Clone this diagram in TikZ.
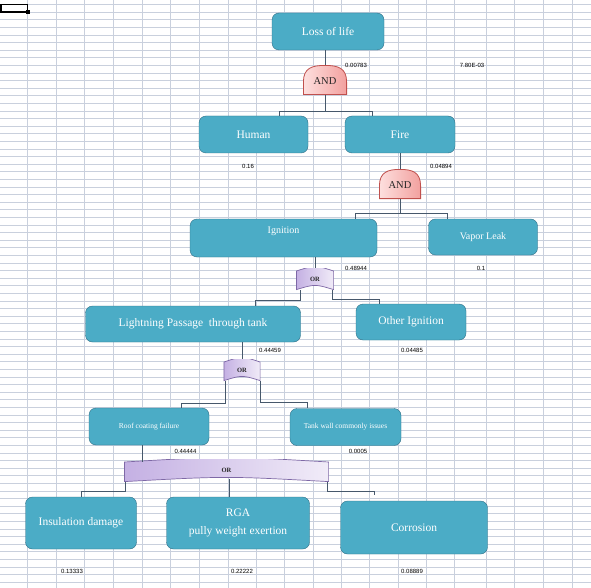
\documentclass[tikz,border=0pt]{standalone}
\usepackage{fontspec}
\setmainfont{Liberation Serif}
\newfontfamily\valfont{Liberation Sans}
\usetikzlibrary{positioning, calc}

\definecolor{evfill}{HTML}{4BACC6}
\definecolor{evline}{HTML}{2F6F86}
\definecolor{wirecol}{HTML}{46586B}
\definecolor{gridcol}{HTML}{C9D0DD}
\definecolor{andlo}{HTML}{FDE0DF}
\definecolor{andhi}{HTML}{F2A09E}
\definecolor{andline}{HTML}{C0504D}
\definecolor{orlo}{HTML}{C4B0E3}
\definecolor{orhi}{HTML}{F1ECF8}
\definecolor{orline}{HTML}{7E68A6}

\begin{document}
\begin{tikzpicture}[x=1pt, y=-1pt,
    event/.style={rectangle, draw=evline, fill=evfill, rounded corners=7pt, text=white, align=center, inner sep=2pt, font=\fontsize{11.5}{18}\selectfont},
    smallev/.style={event, font=\fontsize{7.5}{9}\selectfont},
    value/.style={inner sep=0pt, font=\valfont\fontsize{6}{7}\selectfont},
    wire/.style={draw=wirecol, line width=0.7pt},
    gridline/.style={draw=gridcol, line width=0.5pt},
    andgate/.style={minimum width=44pt, minimum height=30pt, inner sep=0pt, text height=10pt, text=black!85, font=\fontsize{10.5}{12}\selectfont,
      path picture={\draw[andline, left color=andlo, right color=andhi, line width=0.8pt]
        ([shift={(.4pt,.4pt)}]path picture bounding box.south west)
        -- ([shift={(.4pt,-2pt)}]path picture bounding box.west)
        .. controls ([shift={(.4pt,-3pt)}]path picture bounding box.north west) and ([shift={(9pt,-.4pt)}]path picture bounding box.north west) .. ([yshift=-.4pt]path picture bounding box.north)
        .. controls ([shift={(-9pt,-.4pt)}]path picture bounding box.north east) and ([shift={(-.4pt,-3pt)}]path picture bounding box.north east) .. ([shift={(-.4pt,-2pt)}]path picture bounding box.east)
        -- ([shift={(-.4pt,.4pt)}]path picture bounding box.south east) -- cycle;}},
    orgate/.style={inner sep=0pt, text=black!85, font=\fontsize{6.5}{8}\selectfont\bfseries,
      path picture={\draw[orline, left color=orlo, right color=orhi, line width=0.7pt]
        ([shift={(.4pt,-#1)}]path picture bounding box.north west)
        .. controls ([yshift=#1]path picture bounding box.north) .. ([shift={(-.4pt,-#1)}]path picture bounding box.north east)
        -- ([shift={(-.4pt,.4pt)}]path picture bounding box.south east)
        .. controls ([yshift=2*#1]path picture bounding box.south) .. ([shift={(.4pt,.4pt)}]path picture bounding box.south west) -- cycle;}}
  ]
  \useasboundingbox (0,0) rectangle (591,588);
  \fill[white] (0,0) rectangle (591,588);

  % spreadsheet grid
  \foreach \gx in {27.5,56,84.5,113,142,170.5,199,228,256,284.5,313,341,369.5,398,426,454,486,514.5,543,572}
    \draw[gridline] (\gx,0) -- (\gx,588);
  \foreach \i in {0,...,77}
    \draw[gridline] (0,{4.5+7.6*\i}) -- (591,{4.5+7.6*\i});
  \draw[line width=1.6pt] (0.8,4.5) rectangle (27.5,12.1);
  \fill (25.5,10.1) rectangle (29.5,14.1);

  % events and gates
  \node[event, minimum width=112pt, minimum height=37pt] (loss) at (328,31.5) {Loss of life};
  \node[andgate] (and1) at (325,80) {AND};
  \node[event, minimum width=109pt, minimum height=37pt] (human) at (253.5,134.5) {Human};
  \node[event, minimum width=110pt, minimum height=37pt] (fire) at (400,134.5) {Fire};
  \node[andgate, minimum width=42pt] (and2) at (400,184) {AND};
  \node[event, minimum width=187pt, minimum height=38pt, text depth=16pt, font=\fontsize{10}{12}\selectfont] (ign) at (283.5,238) {Ignition};
  \node[event, minimum width=109pt, minimum height=36pt, font=\fontsize{10}{12}\selectfont] (vapor) at (483,237) {Vapor Leak};
  \node[orgate=3pt, minimum width=38pt, minimum height=22pt] (or1) at (315,279) {OR};
  \node[event, minimum width=215pt, minimum height=36pt] (light) at (193,324) {Lightning Passage\ \ through tank};
  \node[event, minimum width=110pt, minimum height=36pt] (other) at (411,322) {Other Ignition};
  \node[orgate=3pt, minimum width=37pt, minimum height=22pt] (or2) at (242,370) {OR};
  \node[smallev, minimum width=120pt, minimum height=37pt] (roof) at (149,426.5) {Roof coating failure};
  \node[smallev, minimum width=111pt, minimum height=37pt] (tank) at (345.5,427) {Tank wall commonly issues};
  \node[orgate=3pt, minimum width=205pt, minimum height=23pt] (or3) at (226.5,470.5) {OR};
  \node[event, minimum width=111pt, minimum height=52pt] (insul) at (81,523) {Insulation damage};
  \node[event, minimum width=143pt, minimum height=52pt] (rga) at (238,523) {RGA\\pully weight exertion};
  \node[event, minimum width=147pt, minimum height=53pt] (corr) at (414,527.5) {Corrosion};

  % values
  \node[value] (vloss) at (356,65) {0.00783};
  \node[value] (vtot) at (472,65) {7.80E-03};
  \node[value] (vhuman) at (248,166) {0.16};
  \node[value] (vfire) at (441,166) {0.04894};
  \node[value] (vign) at (356,268) {0.48944};
  \node[value] (vvapor) at (481,268) {0.1};
  \node[value] (vlight) at (270,350.5) {0.44459};
  \node[value] (vother) at (412,350.5) {0.04485};
  \node[value] (vroof) at (185.5,451.5) {0.44444};
  \node[value] (vtank) at (358,451.5) {0.0005};
  \node[value] (vinsul) at (72,571.5) {0.13333};
  \node[value] (vrga) at (242,571.5) {0.22222};
  \node[value] (vcorr) at (412,571.5) {0.08889};

  % connectors
  \draw[wire] (loss.south -| and1.north) -- (and1.north);
  \draw[wire] (and1.south) -- ++(0,16) coordinate (j1);
  \draw[wire] ([xshift=25.5pt]human.north) |- (j1) -| ([xshift=-28pt]fire.north);
  \draw[wire] (fire.south -| and2.north) -- (and2.north);
  \draw[wire] (and2.south) -- ++(0,14) coordinate (j2);
  \draw[wire] ([xshift=71.5pt]ign.north) |- (j2) -| ([xshift=-36pt]vapor.north);
  \draw[wire] (ign.south -| or1.north) -- (or1.north);
  \draw[wire] ([xshift=5pt]or1.south west) -- ++(0,10) -| ([xshift=62pt]light.north);
  \draw[wire] ([xshift=-2pt]or1.south east) -- ++(0,9) -| ([xshift=-32pt]other.north);
  \draw[wire] (light.south -| or2.north) -- (or2.north);
  \draw[wire] ([xshift=2.5pt]or2.south west) -- ++(0,22) -| ([xshift=32pt]roof.north);
  \draw[wire] ([xshift=-.5pt]or2.south east) -- ++(0,21.5) -| ([xshift=-38.5pt]tank.north);
  \draw[wire] ([xshift=-6.5pt]roof.south) -- ([xshift=-6.5pt,yshift=-3pt]roof.south |- or3.north);
  \draw[wire] ([xshift=2pt]or3.south west) -- ++(0,9) -| (insul.north);
  \draw[wire] ([xshift=2.5pt,yshift=3pt]or3.south) -- ([xshift=2.5pt]or3.south |- rga.north);
  \draw[wire, shorten >=6pt] ([xshift=-2pt]or3.south east) -- ++(0,9) -| ([xshift=-40pt]corr.north);
\end{tikzpicture}
\end{document}
